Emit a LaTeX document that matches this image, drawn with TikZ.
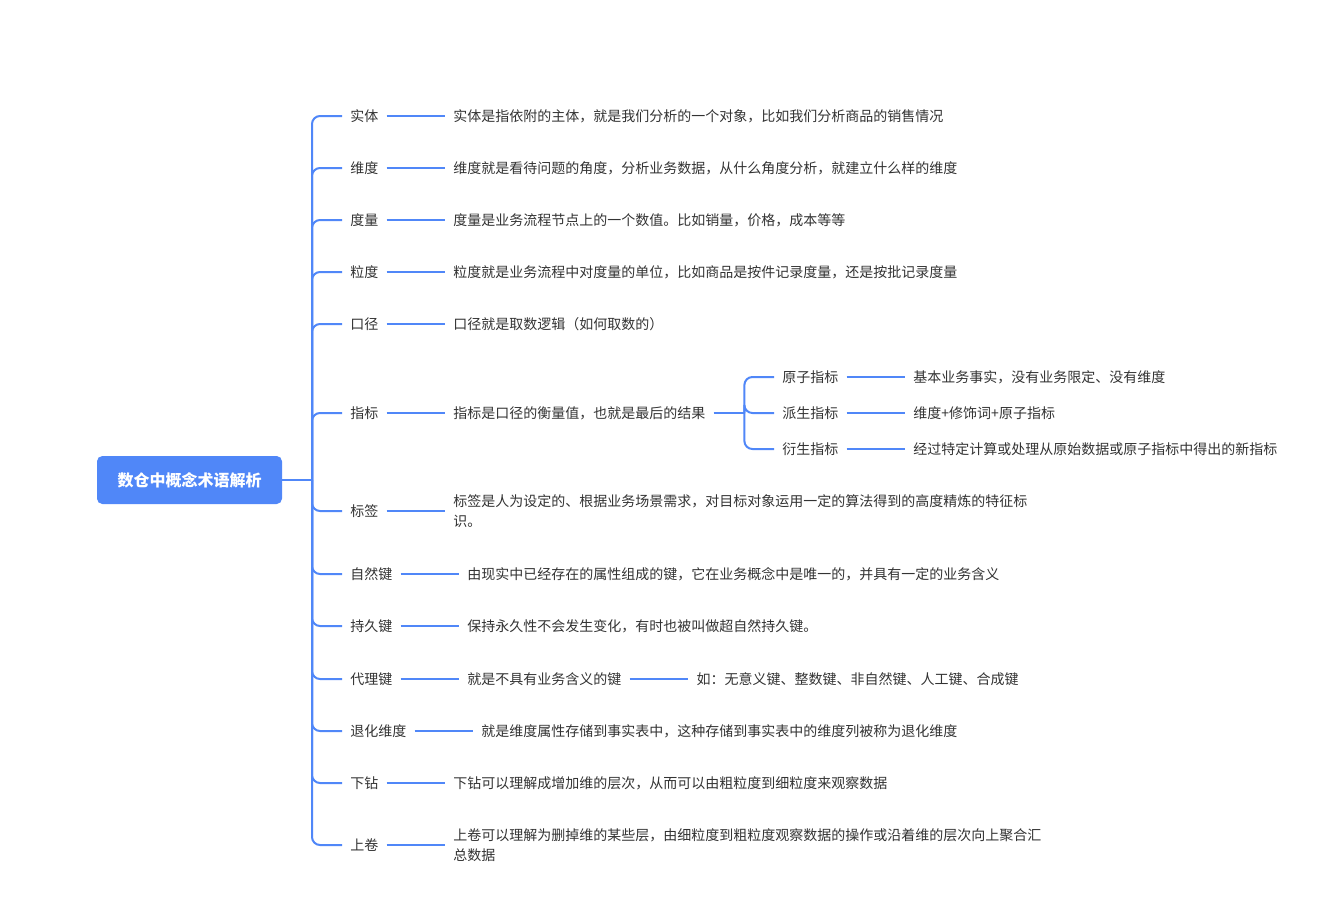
\documentclass[tikz,border=0pt]{standalone}
\usepackage{fontspec}
\setmainfont{Noto Sans CJK SC}
\usetikzlibrary{positioning}
\definecolor{mapblue}{HTML}{5087F8}
\definecolor{maptext}{HTML}{333333}

\begin{document}
\begin{tikzpicture}[x=0.75pt,y=-0.75pt,
	branch/.style={line width=1.5pt, mapblue, rounded corners=6pt},
	term/.style={anchor=west, inner xsep=6pt, inner ysep=2pt, text=maptext,
		font=\fontsize{10.5pt}{15pt}\selectfont},
	desc/.style={term, align=left, right=44pt of #1},
	rootbox/.style={fill=mapblue, text=white, rounded corners=4pt,
		minimum width=138.75pt, minimum height=36pt,
		font=\fontsize{12pt}{14pt}\selectfont\bfseries}]
		
		% canvas
		\fill[white] (0,0) rectangle (1321,911);
		\useasboundingbox (0,0) rectangle (1321,911);
		
		% root
		\node[rootbox] (root) at (189.5,480) {数仓中概念术语解析};
		\coordinate (trunk) at (312,480);
		\draw[branch] (root.east) -- (trunk);
		
		% terms
		\node[term] (t1) at (342,116) {实体};
		\node[term] (t2) at (342,168) {维度};
		\node[term] (t3) at (342,220) {度量};
		\node[term] (t4) at (342,272) {粒度};
		\node[term] (t5) at (342,324) {口径};
		\node[term] (t6) at (342,413) {指标};
		\node[term] (t7) at (342,511) {标签};
		\node[term] (t8) at (342,574) {自然键};
		\node[term] (t9) at (342,626) {持久键};
		\node[term] (t10) at (342,679) {代理键};
		\node[term] (t11) at (342,731) {退化维度};
		\node[term] (t12) at (342,783) {下钻};
		\node[term] (t13) at (342,845) {上卷};
		
		\foreach \i in {1,...,13}
		\draw[branch] (trunk) |- (t\i.west);
		
		% descriptions
		\node[desc=t1] (d1) {实体是指依附的主体，就是我们分析的一个对象，比如我们分析商品的销售情况};
		\node[desc=t2] (d2) {维度就是看待问题的角度，分析业务数据，从什么角度分析，就建立什么样的维度};
		\node[desc=t3] (d3) {度量是业务流程节点上的一个数值。比如销量，价格，成本等等};
		\node[desc=t4] (d4) {粒度就是业务流程中对度量的单位，比如商品是按件记录度量，还是按批记录度量};
		\node[desc=t5] (d5) {口径就是取数逻辑（如何取数的）};
		\node[desc=t6] (d6) {指标是口径的衡量值，也就是最后的结果};
		\node[desc=t7] (d7) {标签是人为设定的、根据业务场景需求，对目标对象运用一定的算法得到的高度精炼的特征标\\识。};
		\node[desc=t8] (d8) {由现实中已经存在的属性组成的键，它在业务概念中是唯一的，并具有一定的业务含义};
		\node[desc=t9] (d9) {保持永久性不会发生变化，有时也被叫做超自然持久键。};
		\node[desc=t10] (d10) {就是不具有业务含义的键};
		\node[desc=t11] (d11) {就是维度属性存储到事实表中，这种存储到事实表中的维度列被称为退化维度};
		\node[desc=t12] (d12) {下钻可以理解成增加维的层次，从而可以由粗粒度到细粒度来观察数据};
		\node[desc=t13] (d13) {上卷可以理解为删掉维的某些层，由细粒度到粗粒度观察数据的操作或沿着维的层次向上聚合汇\\总数据};
		
		\foreach \i in {1,...,13}
		\draw[branch] (t\i) -- (d\i);
		
		% example of surrogate keys
		\node[desc=d10] (e10) {如：无意义键、整数键、非自然键、人工键、合成键};
		\draw[branch] (d10) -- (e10);
		
		% kinds of indicators
		\coordinate[right=23pt of d6] (j6);
		\node[term] (s1) at (774,377) {原子指标};
		\node[term] (s2) at (774,413) {派生指标};
		\node[term] (s3) at (774,449) {衍生指标};
		\draw[branch] (d6) -- (j6);
		\draw[branch] (j6) |- (s1.west);
		\draw[branch] (j6) |- (s2.west);
		\draw[branch] (j6) |- (s3.west);
		
		\node[desc=s1] (u1) {基本业务事实，没有业务限定、没有维度};
		\node[desc=s2] (u2) {维度+修饰词+原子指标};
		\node[desc=s3] (u3) {经过特定计算或处理从原始数据或原子指标中得出的新指标};
		\draw[branch] (s1) -- (u1);
		\draw[branch] (s2) -- (u2);
		\draw[branch] (s3) -- (u3);
		
\end{tikzpicture}
\end{document}
